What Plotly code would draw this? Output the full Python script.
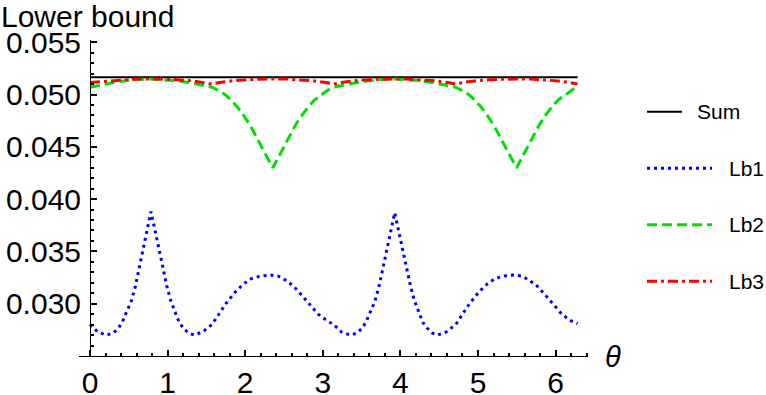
import plotly.graph_objects as go

# ---------------- data ----------------
theta_sum = [0.0, 1.5708, 3.1416, 4.7124, 6.2832]
sum_vals = [0.05164, 0.05164, 0.05164, 0.05164, 0.05164]

theta_lb1 = [0.00, 0.10, 0.215, 0.30, 0.365, 0.42, 0.47, 0.53, 0.58, 0.635, 0.687, 0.74,
             0.785, 0.83, 0.88, 0.93, 0.99, 1.04, 1.10, 1.15, 1.205, 1.27, 1.34, 1.45,
             1.571, 1.65, 1.75, 1.87, 1.98, 2.08, 2.20, 2.32, 2.42, 2.51, 2.62, 2.73,
             2.84, 2.94, 3.05, 3.142,
             3.24, 3.357, 3.44, 3.507, 3.56, 3.61, 3.67, 3.72, 3.777, 3.83, 3.88,
             3.927, 3.97, 4.02, 4.07, 4.13, 4.18, 4.24, 4.29, 4.347, 4.41, 4.48, 4.59,
             4.712, 4.79, 4.89, 5.01, 5.12, 5.22, 5.34, 5.46, 5.56, 5.65, 5.76, 5.87,
             5.98, 6.08, 6.19, 6.283]
lb1_vals = [0.0280, 0.0273, 0.0270, 0.0272, 0.02765, 0.0283, 0.0292, 0.0302, 0.0315, 0.0334, 0.0353, 0.0371,
            0.0388, 0.0373, 0.0355, 0.0337, 0.0317, 0.0303, 0.0291, 0.0282, 0.02765, 0.0272, 0.0270, 0.0273,
            0.0280, 0.0289, 0.0300, 0.0311, 0.0319, 0.0324, 0.03265, 0.03274, 0.03265, 0.0323, 0.0317, 0.0308,
            0.0299, 0.0290, 0.0284, 0.0280,
            0.0273, 0.0270, 0.0272, 0.02765, 0.0283, 0.0292, 0.0302, 0.0315, 0.0334, 0.0353, 0.0370,
            0.0387, 0.0372, 0.0355, 0.0337, 0.0317, 0.0303, 0.0291, 0.0282, 0.02765, 0.0272, 0.0270, 0.0273,
            0.0280, 0.0289, 0.0300, 0.0311, 0.0319, 0.0324, 0.03265, 0.03274, 0.03265, 0.0323, 0.0317, 0.0308,
            0.0299, 0.0290, 0.0284, 0.0281]

theta_lb2 = [0.00, 0.15, 0.30, 0.45, 0.60, 0.785, 0.97, 1.12, 1.27, 1.42, 1.571,
             1.65, 1.74, 1.82, 1.90, 1.98, 2.06, 2.14, 2.22, 2.29, 2.356,
             2.42, 2.49, 2.57, 2.65, 2.73, 2.81, 2.89, 2.97, 3.06, 3.142,
             3.29, 3.44, 3.59, 3.74, 3.927, 4.11, 4.26, 4.41, 4.56, 4.712,
             4.79, 4.88, 4.96, 5.04, 5.12, 5.20, 5.28, 5.36, 5.43, 5.498,
             5.56, 5.63, 5.71, 5.79, 5.87, 5.95, 6.03, 6.11, 6.20, 6.283]
lb2_vals = [0.0507, 0.05095, 0.05115, 0.05132, 0.05143, 0.05148, 0.05143, 0.05132, 0.05115, 0.05095, 0.0507,
            0.0504, 0.0500, 0.04945, 0.0488, 0.0480, 0.0471, 0.0460, 0.0448, 0.0439, 0.0430,
            0.0439, 0.0448, 0.0460, 0.0471, 0.0480, 0.0488, 0.04945, 0.0499, 0.0504, 0.0507,
            0.05095, 0.05115, 0.05132, 0.05143, 0.05148, 0.05143, 0.05132, 0.05115, 0.05095, 0.0507,
            0.0504, 0.0500, 0.04945, 0.0488, 0.0480, 0.0471, 0.0460, 0.0448, 0.0439, 0.0430,
            0.0439, 0.0448, 0.0460, 0.0471, 0.0480, 0.0488, 0.04945, 0.0499, 0.0504, 0.0508]

theta_lb3 = [0.00, 0.10, 0.25, 0.45, 0.60, 0.785, 0.97, 1.12, 1.32, 1.47, 1.571,
             1.67, 1.82, 2.02, 2.17, 2.356, 2.54, 2.69, 2.89, 3.04, 3.142,
             3.24, 3.39, 3.59, 3.74, 3.927, 4.11, 4.26, 4.46, 4.61, 4.712,
             4.81, 4.96, 5.16, 5.31, 5.498, 5.68, 5.83, 6.03, 6.18, 6.283]
lb3_vals = [0.05115, 0.0512, 0.0513, 0.05142, 0.05147, 0.05149, 0.05147, 0.05142, 0.0513, 0.05115, 0.0510,
            0.05115, 0.0513, 0.05142, 0.05147, 0.05149, 0.05147, 0.05142, 0.0513, 0.05115, 0.0510,
            0.05115, 0.0513, 0.05142, 0.05147, 0.05149, 0.05147, 0.05142, 0.0513, 0.05115, 0.0510,
            0.05115, 0.0513, 0.05142, 0.05147, 0.05149, 0.05147, 0.05142, 0.0513, 0.05115, 0.0510]

x_tick_vals = [0, 1, 2, 3, 4, 5, 6]
x_tick_text = ["0", "1", "2", "3", "4", "5", "6"]
y_tick_vals = [0.030, 0.035, 0.040, 0.045, 0.050, 0.055]
y_tick_text = ["0.030", "0.035", "0.040", "0.045", "0.050", "0.055"]

series_names = ["Sum", "Lb1", "Lb2", "Lb3"]

# ---------------- styles ----------------
FONT = "Liberation Sans, Arial, sans-serif"
styles = [
    dict(color="black", width=2, dash="solid"),
    dict(color="#0000FF", width=3, dash="3px,4px"),
    dict(color="#00E000", width=3, dash="10px,5px"),
    dict(color="#FF0000", width=3, dash="10px,4px,3px,4px"),
]

W, H = 766, 395
ML, MR, MT, MB = 79, 178, 40, 39
PW, PH = W - ML - MR, H - MT - MB
PX_PER_X = 77.6
PX_PER_Y = 10460.0
x_range = [(ML - 90) / PX_PER_X, (ML + PW - 90) / PX_PER_X]
y_range = [0.025, 0.025 + PH / PX_PER_Y]


def px_to_paper(px, py):
    return (px - ML) / PW, (H - MB - py) / PH


fig = go.Figure()
series = [(theta_sum, sum_vals), (theta_lb1, lb1_vals), (theta_lb2, lb2_vals), (theta_lb3, lb3_vals)]
for (xs, ys), name, st in zip(series, series_names, styles):
    fig.add_trace(go.Scatter(x=xs, y=ys, mode="lines", name=name, line=st,
                             showlegend=False, hoverinfo="skip", cliponaxis=False))

# manual legend (Mathematica style)
leg_rows_py = [111.7, 168.3, 224.7, 281.3]
leg_line_end = [682, 712, 712, 712]
leg_text_x = [695, 727, 727, 727]
shapes, annotations = [], []
for name, st, py, xe, xt in zip(series_names, styles, leg_rows_py, leg_line_end, leg_text_x):
    x0, y0 = px_to_paper(647, py)
    x1, _ = px_to_paper(xe, py)
    shapes.append(dict(type="line", xref="paper", yref="paper", x0=x0, x1=x1, y0=y0, y1=y0,
                       line=st))
    tx, ty = px_to_paper(xt, py)
    annotations.append(dict(xref="paper", yref="paper", x=tx, y=ty, xanchor="left", yanchor="middle",
                            text=name, showarrow=False, font=dict(family=FONT, size=21, color="black")))

# axis labels
lx, ly = px_to_paper(-1, -2)
annotations.append(dict(xref="paper", yref="paper", x=lx, y=ly, xanchor="left", yanchor="top",
                        text="Lower bound", showarrow=False,
                        font=dict(family=FONT, size=30, color="black")))
tx, ty = px_to_paper(613, 357)
annotations.append(dict(xref="paper", yref="paper", x=tx, y=ty, xanchor="center", yanchor="middle",
                        text="<i>θ</i>", showarrow=False,
                        font=dict(family=FONT, size=29, color="black")))

fig.update_layout(
    template="none",
    width=W, height=H,
    margin=dict(l=ML, r=MR, t=MT, b=MB, pad=0, autoexpand=False),
    paper_bgcolor="white", plot_bgcolor="white",
    shapes=shapes, annotations=annotations,
    showlegend=False,
    xaxis=dict(range=x_range, automargin=False, showline=True, linecolor="black", linewidth=1,
               ticks="inside", ticklen=6, tickwidth=2, tickcolor="black",
               tickvals=x_tick_vals, ticktext=x_tick_text,
               tickfont=dict(family=FONT, size=30, color="black"),
               ticklabelstandoff=0,
               showgrid=False, zeroline=False,
               minor=dict(ticks="inside", ticklen=3, tickwidth=2, tickcolor="black",
                          dtick=0.2, tick0=0, showgrid=False)),
    yaxis=dict(range=y_range, automargin=False, anchor="free", position=(90 - ML) / PW,
               showline=True, linecolor="black", linewidth=1,
               ticks="inside", ticklen=6, tickwidth=2, tickcolor="black",
               tickvals=y_tick_vals, ticktext=y_tick_text,
               tickfont=dict(family=FONT, size=30, color="black"),
               ticklabelstandoff=3,
               showgrid=False, zeroline=False,
               minor=dict(ticks="inside", ticklen=3, tickwidth=2, tickcolor="black",
                          dtick=0.001, tick0=0.025, showgrid=False)),
)

fig.write_html("out.html",
               config={"displayModeBar": False, "staticPlot": True},
               post_script="document.body.style.margin='0';document.body.style.padding='0';")
